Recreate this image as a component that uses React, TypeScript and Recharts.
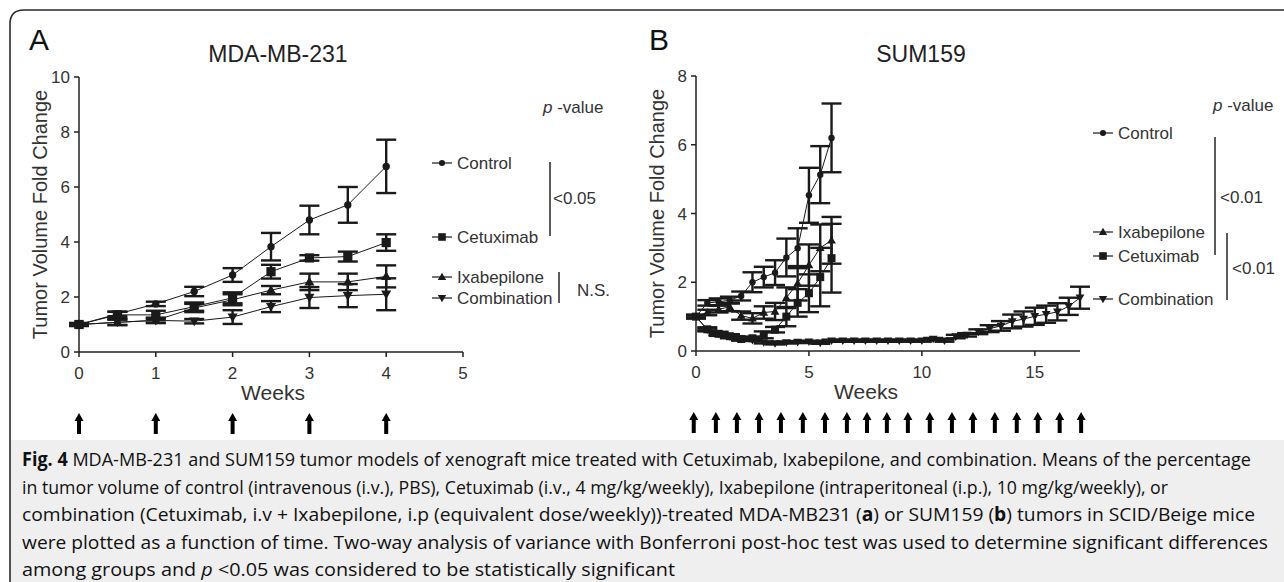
import React from 'react';
import { LineChart, Line, XAxis, YAxis, ErrorBar, ReferenceDot, Label } from 'recharts';

const FONT = '"Liberation Sans", Arial, sans-serif';
const CAPTION_FONT = '"Open Sans", "Noto Sans", sans-serif';
const INK = '#1a1a1a';
const GREY = '#333';

// panel A, MDA-MB-231 (weeks)
const weeksA = [0, 0.5, 1, 1.5, 2, 2.5, 3, 3.5, 4];
const controlA = [1.0, 1.38, 1.75, 2.2, 2.8, 3.83, 4.8, 5.35, 6.75];
const controlAErr = [0.05, 0.08, 0.08, 0.17, 0.25, 0.5, 0.52, 0.65, 0.97];
const cetuximabA = [1.0, 1.35, 1.35, 1.65, 1.97, 2.92, 3.42, 3.47, 3.98];
const cetuximabAErr = [0.05, 0.12, 0.15, 0.15, 0.2, 0.25, 0.1, 0.18, 0.3];
const ixabepiloneA = [1.0, 1.08, 1.15, 1.6, 1.9, 2.25, 2.55, 2.55, 2.75];
const ixabepiloneAErr = [0.05, 0.1, 0.1, 0.15, 0.2, 0.15, 0.3, 0.3, 0.4];
const combinationA = [1.0, 1.08, 1.15, 1.12, 1.27, 1.65, 1.98, 2.05, 2.1];
const combinationAErr = [0.05, 0.1, 0.08, 0.08, 0.25, 0.2, 0.38, 0.42, 0.58];
const doseWeeksA = [0, 1, 2, 3, 4];

// panel B, SUM159
const weeksB6 = [0, 0.5, 1, 1.5, 2, 2.5, 3, 3.5, 4, 4.5, 5, 5.5, 6];
const controlB = [1.0, 1.4, 1.43, 1.48, 1.6, 2.0, 2.15, 2.28, 2.72, 2.99, 4.53, 5.13, 6.2];
const controlBErr = [0.05, 0.08, 0.1, 0.1, 0.13, 0.29, 0.3, 0.36, 0.55, 0.58, 0.8, 0.83, 1.0];
const ixabepiloneB = [1.0, 1.12, 1.22, 1.28, 1.03, 0.95, 1.12, 1.15, 1.55, 1.97, 2.5, 3.0, 3.22];
const ixabepiloneBErr = [0.05, 0.08, 0.1, 0.12, 0.12, 0.15, 0.18, 0.25, 0.3, 0.5, 0.6, 0.68, 0.68];
const cetuximabB = [1.0, 0.63, 0.5, 0.43, 0.35, 0.37, 0.47, 0.62, 1.0, 1.4, 1.68, 2.15, 2.7];
const cetuximabBErr = [0.05, 0.06, 0.06, 0.06, 0.05, 0.05, 0.1, 0.08, 0.28, 0.4, 0.55, 0.85, 1.0];
const weeksB = [
  0, 0.5, 1, 1.5, 2, 2.5, 3, 3.5, 4, 4.5, 5, 5.5, 6, 6.5, 7, 7.5, 8, 8.5,
  9, 9.5, 10, 10.5, 11, 11.5, 12, 12.5, 13, 13.5, 14, 14.5, 15, 15.5, 16, 16.5, 17,
];
const combinationB = [
  1.0, 0.62, 0.5, 0.42, 0.35, 0.32, 0.25, 0.22, 0.25, 0.26, 0.27, 0.24, 0.3, 0.3, 0.3, 0.3, 0.3, 0.3,
  0.3, 0.3, 0.3, 0.35, 0.3, 0.42, 0.47, 0.56, 0.65, 0.73, 0.86, 0.93, 1.01, 1.07, 1.14, 1.3, 1.55,
];
const combinationBErr = [
  0.03, 0.03, 0.03, 0.03, 0.03, 0.03, 0.03, 0.03, 0.03, 0.03, 0.03, 0.03, 0.03, 0.03, 0.03, 0.03, 0.03, 0.03,
  0.03, 0.03, 0.03, 0.03, 0.03, 0.05, 0.05, 0.07, 0.1, 0.14, 0.2, 0.22, 0.25, 0.25, 0.25, 0.25, 0.32,
];
const doseWeeksB = [
  -0.1, 0.88, 1.81, 2.79, 3.76, 4.73, 5.71, 6.68, 7.57, 8.45, 9.38, 10.35, 11.33, 12.26, 13.23, 14.2,
  15.13, 16.1, 17.05,
];

const legendA = ['Control', 'Cetuximab', 'Ixabepilone', 'Combination'];
const legendB = ['Control', 'Ixabepilone', 'Cetuximab', 'Combination'];

type Shape = 'circle' | 'square' | 'up' | 'down';
const shapeOf: Record<string, Shape> = {
  Control: 'circle',
  Cetuximab: 'square',
  Ixabepilone: 'up',
  Combination: 'down',
};

const rows = (weeks: number[], values: number[], errs: number[]) =>
  weeks.map((w, i) => ({ week: w, value: values[i], err: errs[i] }));

const seriesA = [
  { name: 'Control', data: rows(weeksA, controlA, controlAErr) },
  { name: 'Cetuximab', data: rows(weeksA, cetuximabA, cetuximabAErr) },
  { name: 'Ixabepilone', data: rows(weeksA, ixabepiloneA, ixabepiloneAErr) },
  { name: 'Combination', data: rows(weeksA, combinationA, combinationAErr) },
];
const seriesB = [
  { name: 'Control', data: rows(weeksB6, controlB, controlBErr) },
  { name: 'Ixabepilone', data: rows(weeksB6, ixabepiloneB, ixabepiloneBErr) },
  { name: 'Cetuximab', data: rows(weeksB6, cetuximabB, cetuximabBErr) },
  { name: 'Combination', data: rows(weeksB, combinationB, combinationBErr) },
];

function Marker({ shape, x, y, s }: { shape: Shape; x: number; y: number; s: number }) {
  if (shape === 'circle') return <circle cx={x} cy={y} r={s * 0.8} fill={INK} />;
  if (shape === 'square') return <rect x={x - s} y={y - s} width={s * 2} height={s * 2} fill={INK} />;
  if (shape === 'up')
    return <polygon points={`${x},${y - s * 1.1} ${x - s * 1.1},${y + s * 0.8} ${x + s * 1.1},${y + s * 0.8}`} fill={INK} />;
  return <polygon points={`${x},${y + s * 1.1} ${x - s * 1.1},${y - s * 0.8} ${x + s * 1.1},${y - s * 0.8}`} fill={INK} />;
}

const dotFn = (shape: Shape, s: number) => (p: any) => {
  const k = `dot-${p.index}`;
  if (p.cx == null || p.cy == null || p.value == null) return <g key={k} />;
  return (
    <g key={k}>
      <Marker shape={shape} x={p.cx} y={p.cy} s={s} />
    </g>
  );
};

// dosing arrow drawn below the axis, under the "Weeks" title
const doseArrow = (offset: number) => (p: any) => {
  const x = p.cx;
  const y = p.cy + offset;
  return (
    <path
      d={`M${x} ${y} L${x + 4.5} ${y + 8} L${x + 2} ${y + 8} L${x + 2} ${y + 21} L${x - 2} ${y + 21} L${x - 2} ${y + 8} L${x - 4.5} ${y + 8} Z`}
      fill="#000"
    />
  );
};

const tickStyle = { fontSize: 17, fill: GREY, fontFamily: FONT };
const axisStroke = { stroke: '#222', strokeWidth: 1.5 };

function Panel(props: {
  series: { name: string; data: { week: number; value: number; err: number }[] }[];
  width: number;
  xMax: number;
  xTicks: number[];
  yMax: number;
  yTicks: number[];
  doses: number[];
  weeksDx: number;
  markerSize: number;
  marginTop: number;
  marginRight: number;
  marginBottom: number;
}) {
  return (
    <LineChart
      width={props.width}
      height={450}
      margin={{ top: props.marginTop, right: props.marginRight, bottom: props.marginBottom, left: 0 }}
    >
      <XAxis
        dataKey="week"
        type="number"
        domain={[0, props.xMax]}
        ticks={props.xTicks}
        interval={0}
        height={60}
        tickSize={5}
        tickMargin={10}
        axisLine={axisStroke}
        tickLine={axisStroke}
        tick={tickStyle}
      >
        <Label value="Weeks" position="center" dx={props.weeksDx} dy={11} fontSize={21} fill={GREY} fontFamily={FONT} />
      </XAxis>
      <YAxis
        type="number"
        domain={[0, props.yMax]}
        ticks={props.yTicks}
        interval={0}
        width={79}
        tickSize={5}
        tickMargin={4}
        axisLine={axisStroke}
        tickLine={axisStroke}
        tick={tickStyle}
      >
        <Label value="Tumor Volume Fold Change" angle={-90} position="center" fontSize={20} fill={GREY} fontFamily={FONT} />
      </YAxis>
      {props.series.map((s) => (
        <Line
          key={s.name}
          data={s.data}
          dataKey="value"
          name={s.name}
          stroke={INK}
          strokeWidth={1}
          dot={dotFn(shapeOf[s.name], props.markerSize)}
          activeDot={false}
          isAnimationActive={false}
        >
          <ErrorBar dataKey="err" direction="y" width={10} strokeWidth={2.4} stroke={INK} isAnimationActive={false} />
        </Line>
      ))}
      {props.doses.map((w, i) => (
        <ReferenceDot key={`dose-${i}`} x={w} y={0} r={0} ifOverflow="visible" shape={doseArrow(61)} />
      ))}
    </LineChart>
  );
}

const legendText = { fontSize: 17, fill: GREY, fontFamily: FONT };

function LegendItem({ name, x, y }: { name: string; x: number; y: number }) {
  return (
    <g>
      <line x1={x - 10} x2={x + 10} y1={y} y2={y} stroke={INK} strokeWidth={1.2} />
      <Marker shape={shapeOf[name]} x={x} y={y} s={3.8} />
      <text x={x + 15} y={y + 6} {...legendText}>
        {name}
      </text>
    </g>
  );
}

const captionLines = [
  { y: 466, end: 1251 },
  { y: 493.5, end: 1168 },
  { y: 521, end: 1255 },
  { y: 548.5, end: 1268 },
  { y: 576, end: 675 },
];

export default function App() {
  const legendAY = [163, 237, 277, 298];
  const legendBY = [133, 232, 256, 299];
  return (
    <div style={{ position: 'relative', width: 1284, height: 582, overflow: 'hidden', background: '#fff' }}>
      <style>{'body{margin:0}'}</style>
      <div style={{ position: 'absolute', left: 0, top: 0 }}>
        <Panel
          series={seriesA}
          width={640}
          xMax={5}
          xTicks={[0, 1, 2, 3, 4, 5]}
          yMax={10}
          yTicks={[0, 2, 4, 6, 8, 10]}
          doses={doseWeeksA}
          weeksDx={2}
          markerSize={4.6}
          marginTop={77}
          marginRight={177}
          marginBottom={38}
        />
      </div>
      <div style={{ position: 'absolute', left: 617, top: 0 }}>
        <Panel
          series={seriesB}
          width={667}
          xMax={17}
          xTicks={[0, 5, 10, 15]}
          yMax={8}
          yTicks={[0, 2, 4, 6, 8]}
          doses={doseWeeksB}
          weeksDx={-22}
          markerSize={4}
          marginTop={76}
          marginRight={204}
          marginBottom={39}
        />
      </div>
      <svg
        width={1284}
        height={582}
        style={{ position: 'absolute', left: 0, top: 0, pointerEvents: 'none' }}
      >
        <rect x={10} y={440} width={1280} height={150} fill="#efefef" />
        <path d="M10 590 L10 24 Q10 10 24 10 L1290 10" fill="none" stroke="#2a2a2a" strokeWidth={1.6} />

        <text x={29} y={50} fontSize={30} fill="#111" fontFamily={FONT}>A</text>
        <text x={649} y={50} fontSize={30} fill="#111" fontFamily={FONT}>B</text>
        <text x={278} y={62} fontSize={23} fill="#222" fontFamily={FONT} textAnchor="middle">MDA-MB-231</text>
        <text x={921} y={62} fontSize={23} fill="#222" fontFamily={FONT} textAnchor="middle">SUM159</text>

        {/* panel A key and p-values */}
        <text x={543} y={113} {...legendText}>
          <tspan fontStyle="italic">p</tspan> -value
        </text>
        {legendA.map((n, i) => (
          <LegendItem key={n} name={n} x={442} y={legendAY[i]} />
        ))}
        <line x1={550} x2={550} y1={162} y2={236} stroke={GREY} strokeWidth={1.6} />
        <text x={553} y={204} {...legendText}>&lt;0.05</text>
        <line x1={559} x2={559} y1={272} y2={303} stroke={GREY} strokeWidth={1.6} />
        <text x={577} y={296} {...legendText}>N.S.</text>

        {/* panel B key and p-values */}
        <text x={1213} y={111} {...legendText}>
          <tspan fontStyle="italic">p</tspan> -value
        </text>
        {legendB.map((n, i) => (
          <LegendItem key={n} name={n} x={1103} y={legendBY[i]} />
        ))}
        <line x1={1215} x2={1215} y1={137} y2={255} stroke={GREY} strokeWidth={1.6} />
        <text x={1220} y={203} {...legendText}>&lt;0.01</text>
        <line x1={1227} x2={1227} y1={233} y2={300} stroke={GREY} strokeWidth={1.6} />
        <text x={1232} y={274} {...legendText}>&lt;0.01</text>

        {/* caption */}
        <g fontFamily={CAPTION_FONT} fontSize={19} fill="#111">
          <text x={22} y={captionLines[0].y} textLength={captionLines[0].end - 22} lengthAdjust="spacingAndGlyphs">
            <tspan fontWeight="bold">Fig. 4</tspan> MDA-MB-231 and SUM159 tumor models of xenograft mice treated with
            Cetuximab, Ixabepilone, and combination. Means of the percentage
          </text>
          <text x={22} y={captionLines[1].y} textLength={captionLines[1].end - 22} lengthAdjust="spacingAndGlyphs">
            in tumor volume of control (intravenous (i.v.), PBS), Cetuximab (i.v., 4 mg/kg/weekly), Ixabepilone
            (intraperitoneal (i.p.), 10 mg/kg/weekly), or
          </text>
          <text x={22} y={captionLines[2].y} textLength={captionLines[2].end - 22} lengthAdjust="spacingAndGlyphs">
            combination (Cetuximab, i.v + Ixabepilone, i.p (equivalent dose/weekly))-treated MDA-MB231 (
            <tspan fontWeight="bold">a</tspan>) or SUM159 (<tspan fontWeight="bold">b</tspan>) tumors in SCID/Beige mice
          </text>
          <text x={22} y={captionLines[3].y} textLength={captionLines[3].end - 22} lengthAdjust="spacingAndGlyphs">
            were plotted as a function of time. Two-way analysis of variance with Bonferroni post-hoc test was used to
            determine significant differences
          </text>
          <text x={22} y={captionLines[4].y} textLength={captionLines[4].end - 22} lengthAdjust="spacingAndGlyphs">
            among groups and <tspan fontStyle="italic">p</tspan> &lt;0.05 was considered to be statistically significant
          </text>
        </g>
      </svg>
    </div>
  );
}
